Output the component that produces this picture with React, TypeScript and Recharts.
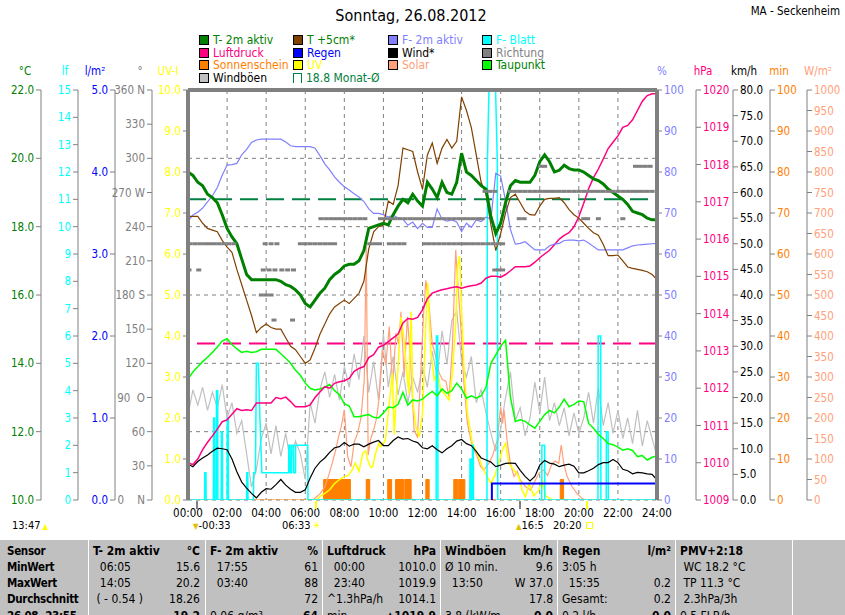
import React from 'react';
import {
  ComposedChart,
  Line,
  Area,
  Scatter,
  XAxis,
  YAxis,
  CartesianGrid,
  ReferenceLine,
} from 'recharts';

const FONT = "'Liberation Sans Narrow', 'DejaVu Sans Condensed', 'Arial Narrow', sans-serif";

// 15-minute samples from 00:00 to 24:00
const quarterHours = Array.from({ length: 97 }, (_, i) => i / 4);

const t2m = [
  19.6, 19.5, 19.3, 19.2, 18.95, 18.85, 18.7, 18.35, 17.95, 17.7, 17.5, 17.05,
  16.6, 16.45, 16.45, 16.45, 16.45, 16.45, 16.45, 16.4, 16.3, 16.25, 16.15, 16.0,
  15.75, 15.65, 15.85, 16.05, 16.2, 16.45, 16.6, 16.7, 16.85, 16.9, 16.9, 17.0,
  17.3, 17.95, 18.0, 18.05, 18.1, 18.05, 18.35, 18.6, 18.8, 18.7, 18.95, 18.75,
  18.6, 19.3, 19.1, 18.85, 19.3, 19.0, 18.95, 19.3, 20.15, 19.6, 19.5, 19.35,
  19.2, 19.1, 18.3, 17.8, 18.1, 18.7, 19.2, 19.35, 19.3, 19.3, 19.3, 19.5,
  19.9, 20.1, 19.9, 19.6, 19.65, 19.8, 19.7, 19.66, 19.66, 19.6, 19.5, 19.4,
  19.35, 19.25, 19.1, 19.0, 18.9, 18.8, 18.65, 18.45, 18.4, 18.35, 18.25, 18.2,
  18.2,
];

const t5cm = [
  18.3, 18.3, 18.3, 18.1, 17.95, 17.9, 17.85, 17.6, 17.4, 17.25, 16.75, 16.3,
  15.85, 15.4, 14.9, 15.05, 15.15, 15.05, 15.0, 15.0, 14.75, 14.5, 14.4, 14.2,
  14.0, 14.1, 14.45, 14.85, 15.15, 15.45, 15.65, 15.75, 15.85, 15.75, 15.9, 16.05,
  16.4, 17.35, 17.85, 18.0, 18.05, 18.75, 18.65, 19.2, 20.3, 20.25, 20.2, 19.6,
  19.1, 20.1, 20.45, 19.85, 20.3, 20.55, 20.3, 20.5, 21.8, 21.4, 20.9, 20.1,
  19.3, 18.95, 18.05, 17.3, 17.8, 18.4, 18.85, 18.95, 18.7, 18.45, 18.35, 18.34,
  18.6, 18.8, 18.83, 18.83, 18.85, 18.7, 18.5, 18.35, 18.25, 18.1, 17.95, 17.82,
  17.75, 17.48, 17.15, 17.15, 17.17, 17.0, 16.82, 16.78, 16.75, 16.72, 16.68, 16.6,
  16.45,
];

const f2m = [
  68, 69.5, 70.2, 71.2, 72.7, 74.2, 76.2, 79.2, 81.7, 81.8, 82.1, 84.2,
  85.5, 87.2, 87.8, 88, 88, 88, 88, 88, 87.3, 86.4, 86.2, 86.2,
  86.2, 86.2, 85.8, 84.0, 82.0, 80.5, 78.8, 77.5, 76.4, 75.6, 74.7, 73.9,
  72.8, 71.0, 69.9, 69.9, 69.6, 69.0, 69.5, 68.8, 68.5, 67.0, 67.8, 66.2,
  67.5, 66.5, 66.5, 71.0, 68.5, 68.0, 68.3, 67.8, 65.5, 67.5, 66.5, 68.3,
  67.9, 69.0, 68.5, 79.7, 79.0, 73.0, 66.0, 62.4, 62.6, 63.0, 62.0, 61.0,
  61.0, 61.0, 62.0, 62.4, 62.6, 63.3, 63.4, 63.4, 63.2, 63.4, 62.7, 61.8,
  61.0, 61.0, 61.0, 61.0, 61.0, 61.0, 61.5, 62.0, 62.2, 62.3, 62.4, 62.5,
  62.6,
];

const luftdruck = [
  1010.0, 1009.95, 1010.1, 1010.35, 1010.55, 1010.72, 1010.9, 1011.1, 1011.15, 1011.3, 1011.45, 1011.4,
  1011.42, 1011.4, 1011.6, 1011.6, 1011.6, 1011.6, 1011.75, 1011.72, 1011.76, 1011.64, 1011.5, 1011.5,
  1011.5, 1011.55, 1011.75, 1011.9, 1012.04, 1012.0, 1012.13, 1012.17, 1012.2, 1012.26, 1012.45, 1012.53,
  1012.58, 1012.82, 1012.9, 1013.1, 1013.15, 1013.25, 1013.35, 1013.45, 1013.75, 1013.87, 1013.85, 1013.9,
  1014.1, 1014.4, 1014.55, 1014.6, 1014.64, 1014.67, 1014.7, 1014.72, 1014.68, 1014.72, 1014.75, 1014.77,
  1014.82, 1014.95, 1015.0, 1015.0, 1014.98, 1015.05, 1015.15, 1015.26, 1015.26, 1015.26, 1015.28, 1015.38,
  1015.5, 1015.6, 1015.7, 1015.85, 1016.0, 1016.1, 1016.17, 1016.33, 1016.6, 1016.96, 1017.35, 1017.65,
  1017.88, 1018.15, 1018.43, 1018.6, 1018.77, 1019.0, 1019.05, 1019.2, 1019.45, 1019.7, 1019.85, 1019.9,
  1019.9,
];

const taupunkt = [
  13.53, 13.75, 13.9, 14.05, 14.18, 14.32, 14.48, 14.65, 14.72, 14.55, 14.42, 14.32,
  14.35, 14.32, 14.34, 14.41, 14.41, 14.41, 14.41, 14.28, 14.15, 14.0, 13.8, 13.65,
  13.42, 13.27, 13.22, 13.25, 13.3, 13.38, 13.2, 13.08, 12.82, 12.75, 12.44, 12.44,
  12.47, 12.5, 12.42, 12.4, 12.55, 12.72, 12.7, 12.8, 13.15, 12.78, 12.93, 12.9,
  12.95, 13.08, 13.18, 13.05, 13.25, 13.12, 13.2, 13.42, 13.25, 12.98, 13.05, 12.98,
  13.05, 13.3, 14.0, 14.25, 14.5, 14.68, 13.0, 12.3, 12.35, 12.3, 12.2, 12.1,
  12.3, 12.5, 12.62, 12.55, 12.72, 12.95, 12.73, 12.8, 12.9, 12.88, 12.24, 12.1,
  11.92, 11.8, 11.65, 11.62, 11.55, 11.46, 11.5, 11.45, 11.27, 11.3, 11.17, 11.25,
  11.29,
];

const wind = [
  7.0, 6.5, 7.5, 8.2, 8.8, 9.5, 10.1, 10.0, 9.8, 8.0, 5.5, 3.5,
  2.3, 1.3, 0.4, 1.5, 2.2, 2.1, 3.0, 4.0, 2.9, 2.1, 1.5, 1.5,
  2.0, 4.3, 6.2, 7.4, 8.2, 9.3, 10.2, 10.4, 11.2, 10.5, 10.9, 10.9,
  10.4, 10.9, 11.3, 11.6, 10.6, 10.6, 11.6, 12.3, 11.9, 12.0, 11.5, 11.2,
  10.2, 10.0, 10.6, 9.8, 9.2, 10.0, 10.6, 11.5, 11.8, 11.0, 10.6, 9.5,
  8.2, 7.8, 7.4, 6.5, 6.8, 7.15, 7.2, 7.15, 5.8, 4.6, 3.7, 4.6,
  6.8, 7.7, 7.2, 7.0, 6.5, 6.8, 7.0, 6.6, 5.3, 5.3, 5.7, 6.2,
  6.9, 7.3, 7.3, 7.9, 7.3, 6.0, 5.7, 5.1, 5.4, 5.3, 5.1, 5.0,
  3.9,
];

const windboeen = [
  16.5, 21.5, 18.5, 22.0, 17.5, 21.0, 18.0, 22.5, 16.0, 19.0, 13.0, 15.5,
  9.0, 2.5, 6.0, 12.0, 15.0, 9.0, 14.5, 8.5, 13.0, 7.5, 11.5, 9.0,
  4.0, 19.0, 15.0, 21.5, 25.0, 20.0, 24.5, 19.5, 26.0, 22.0, 28.5, 23.5,
  32.0, 21.0, 27.0, 19.5, 32.5, 22.0, 28.0, 20.5, 25.0, 19.0, 24.0, 21.0,
  26.0, 22.0, 29.0, 24.0, 33.0, 26.5, 35.0, 37.0, 27.0, 24.0, 28.0, 19.0,
  21.5, 17.0, 13.0, 9.5, 14.0, 20.0, 25.0, 15.5, 18.0, 12.5, 16.0, 23.0,
  17.0, 24.0, 15.5, 19.0, 14.5, 18.0, 12.5, 17.0, 13.0, 16.0, 21.0, 15.0,
  22.0, 14.5, 19.0, 13.0, 17.5, 12.0, 16.0, 11.0, 17.5, 10.5, 15.5, 12.0,
  8.5,
];

// irregular samples (hour, value)
const fblattTimes = [
  0, 0.85, 0.86, 0.92, 0.93, 1.3, 1.31, 1.36, 1.37, 1.45, 1.46, 1.52, 1.53, 1.7, 1.71, 1.76, 1.77,
  2.0, 2.01, 2.06, 2.07, 3.0, 3.01, 3.06, 3.07, 3.35, 3.36, 3.45, 3.5, 3.6, 3.68, 3.78,
  5.15, 5.16, 5.22, 5.23, 5.3, 5.31, 5.4, 5.41, 5.5, 5.51, 6.13, 6.14,
  12.7, 12.71, 12.78, 12.79, 14.42, 14.43, 14.48, 14.49, 14.55, 14.56, 14.6, 14.61,
  15.3, 15.32, 15.4, 15.74, 15.83, 15.85, 18.1, 18.11, 18.25, 18.26,
  20.98, 20.99, 21.12, 21.13, 21.4, 21.41, 21.5, 21.51, 24,
];
const fblattValues = [
  0, 0, 1, 1, 0, 0, 3, 3, 0, 0, 4, 4, 0, 0, 2.5, 2.5, 0,
  0, 3, 3, 0, 0, 1, 1, 0, 0, 1, 1, 5, 5, 3, 1,
  1, 2, 2, 1, 1, 2, 2, 1, 1, 2, 2, 0,
  0, 6, 6, 0, 0, 1.5, 1.5, 0, 0, 2, 2, 0,
  0, 12.3, 15, 15, 12.3, 0, 0, 2, 2, 0,
  0, 6, 6, 0, 0, 2.5, 2.5, 0, 0,
];

const solarTimes = [
  6.4, 6.5, 6.75, 7.0, 7.2, 7.37, 7.55, 7.7, 7.85, 8.0, 8.17, 8.34, 8.5, 8.68, 8.85, 9.02,
  9.12, 9.22, 9.35, 9.5, 9.65, 9.79, 9.96, 10.12, 10.3, 10.47, 10.64, 10.78, 10.9, 11.06,
  11.23, 11.4, 11.57, 11.74, 11.9, 12.05, 12.17, 12.34, 12.5, 12.68, 12.85, 13.02, 13.2,
  13.36, 13.53, 13.7, 13.83, 13.95, 14.12, 14.3, 14.55, 14.8, 14.97, 15.14, 15.4, 15.6,
  15.82, 16.0, 16.1, 16.17, 16.34, 16.5, 16.68, 16.85, 17.0, 17.27, 17.53, 17.7, 17.95,
  18.2, 18.4, 18.63, 18.8, 18.97, 19.1, 19.23, 19.4, 19.65, 19.9, 20.16, 20.33,
];
const solarValues = [
  0, 5, 15, 32, 60, 88, 120, 154, 180, 220, 106, 81, 140, 163, 200, 293,
  620, 110, 150, 170, 200, 252, 366, 330, 423, 280, 407, 380, 459, 300,
  447, 330, 170, 154, 300, 450, 536, 471, 380, 350, 310, 293, 290,
  250, 374, 610, 512, 431, 285, 187, 130, 106, 81, 73, 90, 110,
  146, 228, 187, 220, 140, 89, 57, 70, 49, 33, 24, 40, 65,
  73, 60, 89, 95, 89, 134, 89, 57, 33, 16, 4, 0,
];

const uvTimes = [
  6.55, 6.8, 7.0, 7.25, 7.5, 7.75, 8.0, 8.2, 8.4, 8.56, 8.75, 8.94, 9.1, 9.19, 9.35, 9.45,
  9.6, 9.76, 9.87, 10.1, 10.3, 10.46, 10.55, 10.7, 10.9, 11.06, 11.2, 11.3, 11.42, 11.5,
  11.66, 11.83, 12.0, 12.17, 12.27, 12.42, 12.6, 12.77, 12.94, 13.1, 13.36, 13.53, 13.7,
  13.8, 13.9, 14.0, 14.12, 14.3, 14.55, 14.8, 15.06, 15.3, 15.5, 15.7, 15.9, 16.08,
  16.25, 16.42, 16.68, 16.93, 17.1, 17.27, 17.45, 17.7, 17.95, 18.12, 18.3, 18.63,
];
const uvValues = [
  0, 0.1, 0.16, 0.25, 0.4, 0.5, 0.57, 0.6, 0.73, 0.9, 0.7, 1.14, 1.2, 0.98, 0.8, 0.81,
  1.14, 1.38, 1.3, 1.46, 2.36, 3.09, 1.6, 2.85, 4.47, 3.9, 3.1, 2.6, 4.6, 2.44,
  1.79, 1.54, 2.11, 4.31, 5.3, 3.66, 2.93, 3.1, 2.68, 2.6, 2.44, 3.09, 4.31,
  5.7, 5.95, 4.6, 3.25, 2.11, 1.38, 1.14, 0.81, 0.57, 0.41, 0.6, 0.89, 1.22,
  1.38, 0.89, 0.73, 0.57, 0.24, 0.08, 0.4, 0.1, 0.24, 0.49, 0.1, 0,
];

const sunTimes = [0, 6.94, 8.31, 9.12, 9.3, 10.22, 10.42, 10.62, 11.05, 11.1, 11.42, 12.17, 12.34, 13.6, 13.8, 13.85, 14.17, 19.05, 19.22, 24];
const sunMinutes = [0, 5, 0, 5, 0, 5, 0, 5, 0, 5, 0, 5, 0, 5, 0, 5, 0, 5, 0, 0];

const rainTimes = [15.55, 15.55, 24];
const rainValues = [0, 0.2, 0.2];

// wind direction samples, grouped by direction
const dir158Times = [4.4, 5.35];
const dir180Times = [3.75, 4.0, 4.25];
const dir202Times = [0.05, 0.55, 3.85, 4.15, 4.45, 4.8, 5.1, 5.4, 15.7, 15.9, 16.1];
const dir225Times = [
  0.1, 0.35, 0.6, 0.85, 1.1, 1.35, 1.6, 1.85, 2.1, 2.35, 3.95, 4.25, 4.55,
  5.75, 6.0, 6.25, 6.5, 6.75, 7.0, 7.25, 7.5, 9.3, 9.55, 9.8,
  10.3, 10.55, 10.8, 11.05, 12.1, 12.35, 12.6, 12.85, 13.1, 13.35, 13.6,
  13.85, 14.1, 14.35, 14.6, 14.85, 15.1, 15.35, 15.6, 15.85, 16.1,
];
const dir247Times = [
  6.8, 7.05, 7.3, 7.55, 7.8, 8.05, 8.3, 8.55, 8.8, 9.05, 9.85, 10.1,
  10.35, 10.6, 10.85, 11.1, 11.35, 11.6, 11.85, 12.1, 12.35, 12.6,
  12.85, 13.1, 13.35, 13.6, 13.85, 14.1, 14.35, 14.6, 14.85, 15.05,
  16.95, 17.2, 20.25, 20.45, 21.0, 22.25,
];
const dir271Times = [
  15.2, 15.45, 15.7, 16.5, 16.75, 17.0, 17.25, 17.5, 17.75, 18.0, 18.25, 18.5,
  18.75, 19.0, 19.25, 19.5, 19.75, 20.0, 20.25, 20.5, 20.75, 21.0, 21.25,
  21.5, 21.75, 22.0, 22.25, 22.5, 22.75, 23.0, 23.25, 23.5, 23.75,
];
const dir293Times = [18.05, 18.25, 22.9, 23.15, 23.4, 23.65];

const hourTicks = [0, 2, 4, 6, 8, 10, 12, 14, 16, 18, 20, 22, 24];
const tempTicks = [10, 12, 14, 16, 18, 20, 22];
const lfTicks = [0, 1, 2, 3, 4, 5, 6, 7, 8, 9, 10, 11, 12, 13, 14, 15];
const rainTicks = [0, 1, 2, 3, 4, 5];
const degTicks = [0, 30, 60, 90, 120, 150, 180, 210, 240, 270, 300, 330, 360];
const uvTicks = [0, 1, 2, 3, 4, 5, 6, 7, 8, 9, 10];
const pctTicks = [0, 10, 20, 30, 40, 50, 60, 70, 80, 90, 100];
const hpaTicks = [1009, 1010, 1011, 1012, 1013, 1014, 1015, 1016, 1017, 1018, 1019, 1020];
const kmhTicks = [0, 5, 10, 15, 20, 25, 30, 35, 40, 45, 50, 55, 60, 65, 70, 75, 80];
const minTicks = [0, 10, 20, 30, 40, 50, 60, 70, 80, 90, 100];
const wm2Ticks = [0, 50, 100, 150, 200, 250, 300, 350, 400, 450, 500, 550, 600, 650, 700, 750, 800, 850, 900, 950, 1000];

const monatMittel = 18.8;
const druckMittel = 1013.2;

const legendLabels = [
  'T- 2m aktiv', 'T +5cm*', 'F- 2m aktiv', 'F- Blatt',
  'Luftdruck', 'Regen', 'Wind*', 'Richtung',
  'Sonnenschein', 'UV', 'Solar', 'Taupunkt',
  'Windböen', '18.8 Monat-Ø',
];
const legendBoxColors = [
  '#008000', '#804000', '#8080FF', '#00FFFF',
  '#FF0080', '#0000FF', '#000000', '#808080',
  '#FF8000', '#FFFF00', '#FFA07A', '#00FF00',
  '#C0C0C0', '',
];
const legendTextColors = [
  '#008000', '#008000', '#8080FF', '#00FFFF',
  '#FF0080', '#0000FF', '#000000', '#808080',
  '#FF8000', '#FFFF00', '#FFA07A', '#008000',
  '#000000', '#008040',
];

const unitLabels = ['°C', 'lf', 'l/m²', '°', 'UV-I', '%', 'hPa', 'km/h', 'min', 'W/m²'];
const unitColors = ['#008000', '#00FFFF', '#0000FF', '#808080', '#FFFF00', '#8080FF', '#FF0080', '#000000', '#FF8000', '#FFA07A'];
const unitCenters = [25, 65, 95, 140, 168, 662, 703, 744, 779, 818];

const tableCols = [7, 93, 210, 327, 445, 562, 680];
const tableColEnds = [85, 200, 318, 436, 553, 671, 790];
const tableLeft = [
  ['Sensor', 'MinWert', 'MaxWert', 'Durchschnitt', '26.08. 23:55'],
  ['T- 2m aktiv', '\u00a0\u00a006:05', '\u00a0\u00a014:05', '\u00a0( - 0.54 )', ''],
  ['F- 2m aktiv', '\u00a0\u00a017:55', '\u00a0\u00a003:40', '', '0.06 g/m³'],
  ['Luftdruck', '\u00a0\u00a000:00', '\u00a0\u00a023:40', '^1.3hPa/h', 'min'],
  ['Windböen', 'Ø 10 min.', '\u00a0\u00a013:50', '', '3.8 (kW/m'],
  ['Regen', '3:05 h', '\u00a0\u00a015:35', 'Gesamt:', '0.2 l/h'],
  ['PMV+2:18', '\u00a0WC 18.2 °C', '\u00a0TP 11.3 °C', '\u00a02.3hPa/3h', '0.5 FLB/h'],
];
const tableRight = [
  ['', '', '', '', ''],
  ['°C', '15.6', '20.2', '18.26', '19.2'],
  ['%', '61', '88', '72', '64'],
  ['hPa', '1010.0', '1019.9', '1014.1', '▲1019.9'],
  ['km/h', '9.6', 'W 37.0', '17.8', '0.0'],
  ['l/m²', '', '0.2', '0.2', '0.0'],
  ['', '', '', '', ''],
];
const tableRowY = [552, 568, 584, 600, 617];

const pts = (times: number[], values: number[]) => times.map((h, i) => ({ h, v: values[i] }));

const baseData = quarterHours.map((h, i) => ({
  h,
  t2m: t2m[i],
  t5cm: t5cm[i],
  f2m: f2m[i],
  druck: luftdruck[i],
  tau: taupunkt[i],
  wind: wind[i],
  boeen: windboeen[i],
}));

const richtungData = [
  ...dir158Times.map((h) => ({ h, deg: 158 })),
  ...dir180Times.map((h) => ({ h, deg: 180 })),
  ...dir202Times.map((h) => ({ h, deg: 202 })),
  ...dir225Times.map((h) => ({ h, deg: 225 })),
  ...dir247Times.map((h) => ({ h, deg: 247 })),
  ...dir271Times.map((h) => ({ h, deg: 271 })),
  ...dir293Times.map((h) => ({ h, deg: 293 })),
];

const fblattData = pts(fblattTimes, fblattValues);
const solarData = pts(solarTimes, solarValues);
const uvData = pts(uvTimes, uvValues);
const sunData = pts(sunTimes, sunMinutes);
const rainData = pts(rainTimes, rainValues);

const GRAY = '#808080';
const tickFont = (fill: string) => ({ fill, fontSize: 11.5, fontFamily: FONT });
// non-breaking spaces keep Recharts from wrapping these labels
const degLabel: Record<number, string> = {
  360: '360\u00a0N',
  270: '270\u00a0W',
  180: '180\u00a0S',
  90: '90\u00a0\u00a0O',
  0: '0\u00a0\u00a0\u00a0\u00a0N',
};

const RichtungMark = (props: any) => (
  <rect x={props.cx - 2.5} y={props.cy - 1.5} width={5} height={3} fill={GRAY} />
);

// axis ids are prefixed so that they stack outward in this order
const AX = {
  uv: 'L1uv',
  deg: 'L2deg',
  rain: 'L3rain',
  lf: 'L4lf',
  temp: 'L5temp',
  pct: 'R1pct',
  hpa: 'R2hpa',
  kmh: 'R3kmh',
  min: 'R4min',
  wm2: 'R5wm2',
};

const App = () => {
  const axisCommon = {
    type: 'number' as const,
    interval: 0 as const,
    allowDataOverflow: true,
    tickSize: 5,
    tickMargin: 2,
    tickLine: { stroke: GRAY },
    axisLine: { stroke: GRAY },
  };

  return (
    <div
      style={{
        position: 'absolute',
        left: 0,
        top: 0,
        width: 845,
        height: 615,
        overflow: 'hidden',
        background: '#fff',
        fontFamily: FONT,
        fontSize: 12,
      }}
    >
      <div style={{ position: 'absolute', left: 0, top: 0 }}>
        <ComposedChart
          width={845}
          height={540}
          data={baseData}
          margin={{ top: 90, right: 0, bottom: 0, left: 0 }}
        >
          <XAxis
            dataKey="h"
            type="number"
            domain={[0, 24]}
            ticks={hourTicks}
            interval={0}
            allowDataOverflow
            axisLine={false}
            tickLine={false}
            height={40}
            tickMargin={3}
            tick={tickFont('#000')}
            tickFormatter={(h: number) => `${String(h).padStart(2, '0')}:00`}
          />

          <YAxis
            {...axisCommon}
            yAxisId={AX.uv}
            orientation="left"
            width={36}
            domain={[0, 10]}
            ticks={uvTicks}
            tick={tickFont('#FFFF00')}
            axisLine={{ stroke: GRAY, strokeWidth: 4 }}
            tickFormatter={(v: number) => v.toFixed(1)}
          />
          <YAxis
            {...axisCommon}
            yAxisId={AX.deg}
            orientation="left"
            width={37}
            domain={[0, 360]}
            ticks={degTicks}
            tick={tickFont(GRAY)}
            tickFormatter={(v: number) => degLabel[v] ?? String(v)}
          />
          <YAxis
            {...axisCommon}
            yAxisId={AX.rain}
            orientation="left"
            width={37}
            domain={[0, 5]}
            ticks={rainTicks}
            tick={tickFont('#0000FF')}
            tickFormatter={(v: number) => v.toFixed(1)}
          />
          <YAxis
            {...axisCommon}
            yAxisId={AX.lf}
            orientation="left"
            width={37}
            domain={[0, 15]}
            ticks={lfTicks}
            tick={tickFont('#00FFFF')}
          />
          <YAxis
            {...axisCommon}
            yAxisId={AX.temp}
            orientation="left"
            width={41}
            domain={[10, 22]}
            ticks={tempTicks}
            tick={tickFont('#008000')}
            tickFormatter={(v: number) => v.toFixed(1)}
          />

          <YAxis
            {...axisCommon}
            yAxisId={AX.pct}
            orientation="right"
            width={39}
            domain={[0, 100]}
            ticks={pctTicks}
            tick={tickFont('#8080FF')}
            axisLine={{ stroke: GRAY, strokeWidth: 4 }}
          />
          <YAxis
            {...axisCommon}
            yAxisId={AX.hpa}
            orientation="right"
            width={37}
            domain={[1009, 1020]}
            ticks={hpaTicks}
            tick={tickFont('#FF0080')}
          />
          <YAxis
            {...axisCommon}
            yAxisId={AX.kmh}
            orientation="right"
            width={37}
            domain={[0, 80]}
            ticks={kmhTicks}
            tick={tickFont('#000000')}
            tickFormatter={(v: number) => v.toFixed(1)}
          />
          <YAxis
            {...axisCommon}
            yAxisId={AX.min}
            orientation="right"
            width={37}
            domain={[0, 100]}
            ticks={minTicks}
            tick={tickFont('#FF8000')}
          />
          <YAxis
            {...axisCommon}
            yAxisId={AX.wm2}
            orientation="right"
            width={38}
            domain={[0, 1000]}
            ticks={wm2Ticks}
            tick={tickFont('#FFA07A')}
          />

          <CartesianGrid yAxisId={AX.temp} stroke={GRAY} strokeDasharray="4 4" />

          <ReferenceLine yAxisId={AX.temp} y={monatMittel} stroke="#008040" strokeWidth={2} strokeDasharray="18 8" />
          <ReferenceLine yAxisId={AX.hpa} y={druckMittel} stroke="#FF0080" strokeWidth={2} strokeDasharray="18 8" />

          <Line yAxisId={AX.kmh} dataKey="boeen" stroke="#C0C0C0" strokeWidth={1.2} dot={false} activeDot={false} isAnimationActive={false} />
          <Line yAxisId={AX.wm2} data={solarData} dataKey="v" stroke="#FFA07A" strokeWidth={1.2} dot={false} activeDot={false} isAnimationActive={false} />
          <Line yAxisId={AX.uv} data={uvData} dataKey="v" stroke="#FFFF00" strokeWidth={1.5} dot={false} activeDot={false} isAnimationActive={false} />
          <Line yAxisId={AX.lf} data={fblattData} dataKey="v" stroke="#00FFFF" strokeWidth={1.5} dot={false} activeDot={false} isAnimationActive={false} />
          <Area yAxisId={AX.min} data={sunData} dataKey="v" type="stepAfter" stroke="#FF8000" fill="#FF8000" fillOpacity={1} strokeWidth={1} dot={false} activeDot={false} isAnimationActive={false} />
          <Line yAxisId={AX.kmh} dataKey="wind" stroke="#000000" strokeWidth={1.2} dot={false} activeDot={false} isAnimationActive={false} />
          <Line yAxisId={AX.temp} dataKey="tau" stroke="#00FF00" strokeWidth={1.5} dot={false} activeDot={false} isAnimationActive={false} />
          <Line yAxisId={AX.hpa} dataKey="druck" stroke="#FF0080" strokeWidth={1.5} dot={false} activeDot={false} isAnimationActive={false} />
          <Line yAxisId={AX.pct} dataKey="f2m" stroke="#8080FF" strokeWidth={1.2} dot={false} activeDot={false} isAnimationActive={false} />
          <Line yAxisId={AX.temp} dataKey="t5cm" stroke="#804000" strokeWidth={1.2} dot={false} activeDot={false} isAnimationActive={false} />
          <Scatter yAxisId={AX.deg} data={richtungData} dataKey="deg" shape={RichtungMark} isAnimationActive={false} />
          <Line yAxisId={AX.temp} dataKey="t2m" stroke="#008000" strokeWidth={3} dot={false} activeDot={false} isAnimationActive={false} />
          <Line yAxisId={AX.rain} data={rainData} dataKey="v" stroke="#0000FF" strokeWidth={2} dot={false} activeDot={false} isAnimationActive={false} />

          <ReferenceLine yAxisId={AX.temp} y={22} stroke={GRAY} strokeWidth={4} />
        </ComposedChart>
      </div>

      {/* title */}
      <div style={{ position: 'absolute', left: 0, width: 822, top: 6, textAlign: 'center', fontSize: 16 }}>
        Sonntag, 26.08.2012
      </div>
      <div style={{ position: 'absolute', right: 5, top: 4, fontSize: 11.5 }}>MA - Seckenheim</div>

      {/* legend */}
      {legendLabels.map((label, i) => {
        const x = [199, 293, 388, 482][i % 4];
        const yc = [40, 52.5, 65, 78][Math.floor(i / 4)];
        const box = legendBoxColors[i];
        return (
          <div key={label} style={{ position: 'absolute', left: x, top: yc - 7, height: 14, display: 'flex', alignItems: 'center' }}>
            {box ? (
              <div style={{ width: 8, height: 8, background: box, border: '1px solid #000' }} />
            ) : (
              <div style={{ width: 7, height: 9, borderTop: '1.5px solid #008040', borderLeft: '1.5px solid #008040', borderRight: '1.5px solid #008040' }} />
            )}
            <span style={{ marginLeft: 4, color: legendTextColors[i], fontSize: 12, whiteSpace: 'nowrap' }}>{label}</span>
          </div>
        );
      })}

      {/* axis unit titles */}
      {unitLabels.map((u, i) => (
        <div key={u} style={{ position: 'absolute', left: unitCenters[i] - 20, width: 40, top: 64, textAlign: 'center', color: unitColors[i], fontSize: 11.5 }}>
          {u}
        </div>
      ))}

      {/* sun / moon markers below the time axis */}
      <div style={{ position: 'absolute', left: 196, top: 501, width: 2, height: 8, background: GRAY }} />
      <div style={{ position: 'absolute', left: 315, top: 501, width: 2, height: 8, background: '#FFFF00' }} />
      <div style={{ position: 'absolute', left: 519, top: 501, width: 2, height: 8, background: GRAY }} />
      <div style={{ position: 'absolute', left: 586, top: 501, width: 2, height: 8, background: '#FFFF00' }} />

      <div style={{ position: 'absolute', left: 12, top: 519, fontSize: 11 }}>
        13:47<span style={{ color: '#FFFF00', fontSize: 8, marginLeft: 2 }}>▲</span>
      </div>
      <div style={{ position: 'absolute', left: 193, top: 519, fontSize: 11 }}>
        <span style={{ color: '#E0C000', fontSize: 8 }}>▼</span>-00:33
      </div>
      <div style={{ position: 'absolute', left: 282, top: 519, fontSize: 11 }}>
        06:33<span style={{ color: '#FFFF00', fontSize: 10, marginLeft: 2 }}>☀</span>
      </div>
      <div style={{ position: 'absolute', left: 516, top: 519, fontSize: 11 }}>
        <span style={{ color: '#E0C000', fontSize: 8 }}>▲</span>16:5
      </div>
      <div style={{ position: 'absolute', left: 553, top: 519, fontSize: 11 }}>
        20:20<span style={{ display: 'inline-block', width: 5, height: 5, border: '1px solid #FFFF00', marginLeft: 4 }} />
      </div>

      {/* statistics table */}
      <div style={{ position: 'absolute', left: 0, top: 540, width: 845, height: 75, background: '#C0C0C0' }} />
      {[88, 205, 322, 440, 557, 675, 792].map((x) => (
        <div key={x} style={{ position: 'absolute', left: x, top: 540, width: 1, height: 75, background: '#FFFFFF' }} />
      ))}
      {tableLeft.map((col, c) =>
        col.map((txt, r) => (
          <div
            key={`l${c}-${r}`}
            style={{
              position: 'absolute',
              left: tableCols[c],
              top: tableRowY[r] - 8,
              fontSize: c === 0 ? 11.5 : 12,
              letterSpacing: c === 0 ? -0.3 : 0,
              fontWeight: c === 0 || r === 0 ? 'bold' : 'normal',
              whiteSpace: 'nowrap',
            }}
          >
            {txt}
          </div>
        ))
      )}
      {tableRight.map((col, c) =>
        col.map((txt, r) =>
          txt ? (
            <div
              key={`r${c}-${r}`}
              style={{
                position: 'absolute',
                right: 845 - tableColEnds[c],
                top: tableRowY[r] - 8,
                fontSize: 12,
                fontWeight: r === 0 || r === 4 ? 'bold' : 'normal',
                whiteSpace: 'nowrap',
              }}
            >
              {txt}
            </div>
          ) : null
        )
      )}
    </div>
  );
};

export default App;
